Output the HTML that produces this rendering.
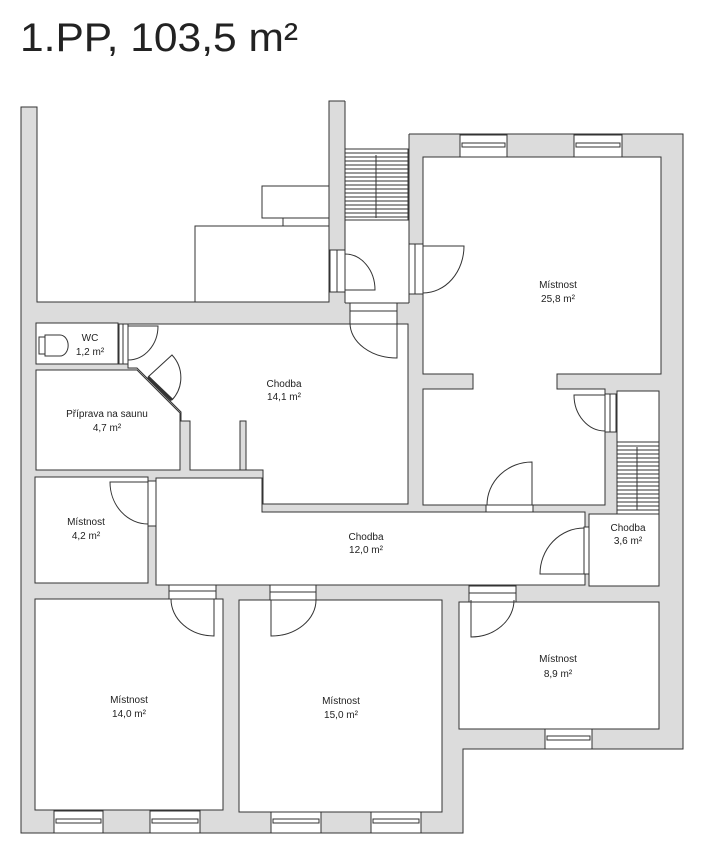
<!DOCTYPE html>
<html><head><meta charset="utf-8"><style>
html,body{margin:0;padding:0;background:#fff}
svg{display:block}
text{font-family:"Liberation Sans",sans-serif;fill:#222}
.l{font-size:10px;text-anchor:middle}
</style></head><body>
<svg width="701" height="856" viewBox="0 0 701 856" xmlns="http://www.w3.org/2000/svg">
<text x="20" y="51" font-size="40" textLength="278" lengthAdjust="spacingAndGlyphs">1.PP, 103,5 m²</text>
<g stroke="#333" stroke-width="1">
<polygon fill="#dcdcdc" points="21,107 37,107 37,302 329,302 329,101 345,101 345,134 683,134 683,749 463,749 463,833 21,833"/>
<polygon fill="#fff" stroke="none" points="345,100 409,100 409,303 345,303"/>
<line x1="345" y1="101" x2="345" y2="303"/>
<line x1="409" y1="134" x2="409" y2="303"/>
<line x1="345" y1="303" x2="409" y2="303"/>
<rect x="262" y="186" width="67" height="32" fill="#fff"/>
<rect x="283" y="218" width="46" height="8" fill="#fff"/>
<rect x="195" y="226" width="134" height="76" fill="#fff"/>
<rect x="36" y="323" width="82" height="41" fill="#fff"/>
<polygon fill="#fff" points="128,324 408,324 408,504 263,504 263,470 190,470 190,421 181,421 181,412 137,368 128,368"/>
<polygon fill="#fff" points="36,370 137,370 180,413 180,470 36,470"/>
<polygon fill="#fff" points="423,157 661,157 661,374 557,374 557,389 605,389 605,505 423,505 423,389 473,389 473,374 423,374"/>
<polygon fill="#fff" points="617,391 659,391 659,586 589,586 589,514 617,514"/>
<polygon fill="#fff" points="156,478 262,478 262,512 585,512 585,585 156,585"/>
<rect x="35" y="477" width="113" height="106" fill="#fff"/>
<rect x="35" y="599" width="188" height="211" fill="#fff"/>
<rect x="239" y="600" width="203" height="212" fill="#fff"/>
<rect x="459" y="602" width="200" height="127" fill="#fff"/>
<rect x="240" y="421" width="6" height="49" fill="#dcdcdc"/>
<g fill="none">
<rect x="345" y="149" width="63" height="71" fill="#fff"/>
<path d="M345,153H408M345,157H408M345,161H408M345,165H408M345,169H408M345,173H408M345,177H408M345,181H408M345,185H408M345,189H408M345,193H408M345,197H408M345,201H408M345,205H408M345,209H408M345,213H408M345,217H408"/>
<line x1="376" y1="155" x2="376" y2="218"/>
<rect x="617" y="442" width="42" height="72" fill="#fff"/>
<path d="M617,446H659M617,450H659M617,454H659M617,458H659M617,462H659M617,466H659M617,470H659M617,474H659M617,478H659M617,482H659M617,486H659M617,490H659M617,494H659M617,498H659M617,502H659M617,506H659M617,510H659"/>
<line x1="637" y1="447" x2="637" y2="510"/>
</g>
<g fill="#fff">
<rect x="460" y="135" width="47" height="22"/><rect x="462" y="143" width="43" height="4"/>
<rect x="574" y="135" width="48" height="22"/><rect x="576" y="143" width="44" height="4"/>
<rect x="54" y="811" width="49" height="22"/><rect x="56" y="819" width="45" height="4"/>
<rect x="150" y="811" width="50" height="22"/><rect x="152" y="819" width="46" height="4"/>
<rect x="271" y="812" width="50" height="21"/><rect x="273" y="819" width="46" height="4"/>
<rect x="371" y="812" width="50" height="21"/><rect x="373" y="819" width="46" height="4"/>
<rect x="545" y="729" width="47" height="20"/><rect x="547" y="736" width="43" height="4"/>
</g>
<g fill="#fff">
<rect x="330" y="250" width="15" height="42"/><line x1="337" y1="250" x2="337" y2="292"/>
<rect x="409" y="244" width="14" height="50"/><line x1="415" y1="244" x2="415" y2="294"/>
<rect x="350" y="303" width="47" height="21"/><line x1="350" y1="311" x2="397" y2="311"/>
<rect x="119" y="324" width="9" height="40"/><line x1="123" y1="324" x2="123" y2="364"/>
<rect x="148" y="481" width="8" height="45"/>
<rect x="169" y="585" width="47" height="14"/><line x1="169" y1="591" x2="216" y2="591"/>
<rect x="270" y="585" width="46" height="15"/><line x1="270" y1="592" x2="316" y2="592"/>
<rect x="469" y="586" width="47" height="16"/><line x1="469" y1="593" x2="516" y2="593"/>
<rect x="584" y="527" width="5" height="47"/>
<rect x="486" y="505" width="47" height="7"/>
<rect x="605" y="394" width="11" height="38"/><line x1="610" y1="394" x2="610" y2="432"/>
</g>
<line x1="148" y1="377" x2="172" y2="400" stroke-width="3"/>
<g fill="none">
<path d="M345,290H375A30,36 0 0 0 345,254"/>
<path d="M423,246H464A41,47 0 0 1 423,293"/>
<path d="M397,323V358A47,35 0 0 1 350,323"/>
<path d="M128,326H158A30,34 0 0 1 128,360"/>
<path d="M148,377L172,355A33,33 0 0 1 172,400"/>
<path d="M148,482H110A38,42 0 0 0 148,524"/>
<path d="M214,599V636A43,37 0 0 1 171,599"/>
<path d="M271,600V636A45,36 0 0 0 316,600"/>
<path d="M471,600V637A43,37 0 0 0 514,600"/>
<path d="M584,574H540A44,46 0 0 1 584,528"/>
<path d="M532,505V462A45,43 0 0 0 487,505"/>
<path d="M605,395H574A31,36 0 0 0 605,431"/>
</g>
<g fill="#fff">
<rect x="39" y="337" width="6" height="17"/>
<path d="M45,335H60A7,9 0 0 1 60,356H45Z"/>
</g>
</g>
<g>
<text class="l" x="90" y="341">WC</text><text class="l" x="90" y="355" font-size="9">1,2 m²</text>
<text class="l" x="284" y="387">Chodba</text><text class="l" x="284" y="400" font-size="9">14,1 m²</text>
<text class="l" x="107" y="417">Příprava na saunu</text><text class="l" x="107" y="431" font-size="9">4,7 m²</text>
<text class="l" x="558" y="288">Místnost</text><text class="l" x="558" y="302">25,8 m²</text>
<text class="l" x="86" y="525">Místnost</text><text class="l" x="86" y="539" font-size="9">4,2 m²</text>
<text class="l" x="366" y="540">Chodba</text><text class="l" x="366" y="553" font-size="9">12,0 m²</text>
<text class="l" x="628" y="531">Chodba</text><text class="l" x="628" y="544" font-size="9">3,6 m²</text>
<text class="l" x="558" y="662">Místnost</text><text class="l" x="558" y="677">8,9 m²</text>
<text class="l" x="129" y="703">Místnost</text><text class="l" x="129" y="717" font-size="9">14,0 m²</text>
<text class="l" x="341" y="704">Místnost</text><text class="l" x="341" y="718" font-size="9">15,0 m²</text>
</g>
</svg>
</body></html>
